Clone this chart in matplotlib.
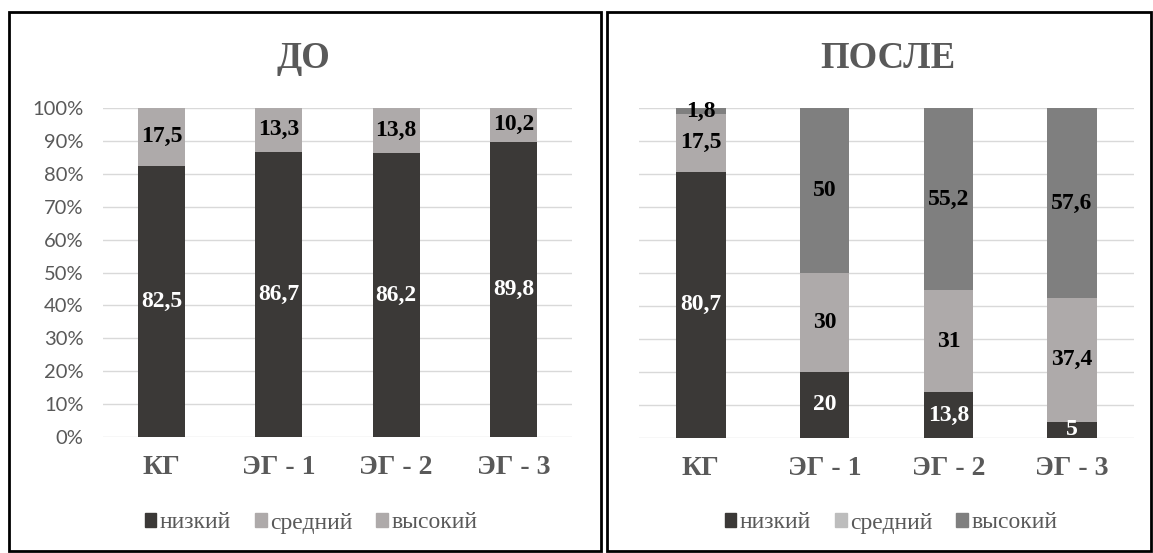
import matplotlib
matplotlib.use("Agg")
import matplotlib.pyplot as plt
from matplotlib.patches import Rectangle, Patch

groups = ["КГ", "ЭГ - 1", "ЭГ - 2", "ЭГ - 3"]
levels = ["низкий", "средний", "высокий"]

# ДО
before_low = [82.5, 86.7, 86.2, 89.8]
before_mid = [17.5, 13.3, 13.8, 10.2]
before_high = [0, 0, 0, 0]

# ПОСЛЕ
after_low = [80.7, 20, 13.8, 5]
after_mid = [17.5, 30, 31, 37.4]
after_high = [1.8, 50, 55.2, 57.6]

yticks = [0, 10, 20, 30, 40, 50, 60, 70, 80, 90, 100]

DARK = "#3b3937"
LIGHT = "#aeaaaa"
MID = "#7f7f7f"
TXT = "#595959"
SERIF = "Liberation Serif"
LBL = 17

W, H = 1153, 553
fig = plt.figure(figsize=(W / 100, H / 100), dpi=100)


def fx(px):
    return px / W


def fy(py):
    return 1 - py / H


def fmt(v):
    return ("%g" % v).replace(".", ",")


def draw(ax, low, mid, high, colors, show_y):
    x = range(len(groups))
    total = [a + b + c for a, b, c in zip(low, mid, high)]
    lo = [a / t * 100 for a, t in zip(low, total)]
    md = [b / t * 100 for b, t in zip(mid, total)]
    hi = [c / t * 100 for c, t in zip(high, total)]
    ax.bar(x, lo, 0.4, color=colors[0], zorder=3)
    ax.bar(x, md, 0.4, bottom=lo, color=colors[1], zorder=3)
    ax.bar(x, hi, 0.4, bottom=[a + b for a, b in zip(lo, md)], color=colors[2], zorder=3)
    for i in x:
        ax.text(i, lo[i] / 2, fmt(low[i]), ha="center", va="center", color="white",
                fontsize=LBL, fontweight="bold", family=SERIF, zorder=4)
        if mid[i] > 0:
            ax.text(i, lo[i] + md[i] / 2, fmt(mid[i]), ha="center", va="center", color="black",
                    fontsize=LBL, fontweight="bold", family=SERIF, zorder=4)
        if high[i] > 0:
            ax.text(i, lo[i] + md[i] + hi[i] / 2, fmt(high[i]), ha="center", va="center",
                    color="black", fontsize=LBL, fontweight="bold", family=SERIF, zorder=4)
    ax.set_xlim(-0.5, len(groups) - 0.5)
    ax.set_ylim(0, 100)
    ax.set_yticks(yticks)
    ax.yaxis.grid(True, color="#d9d9d9", lw=1, zorder=0)
    for s in ax.spines.values():
        s.set_visible(False)
    ax.set_xticks(list(x))
    ax.set_xticklabels(groups, family=SERIF, fontweight="bold", fontsize=20, color=TXT)
    ax.tick_params(axis="x", length=0, pad=13)
    ax.tick_params(axis="y", length=0, pad=14)
    if show_y:
        ax.set_yticklabels(["%d%%" % v for v in yticks], family="Lato", fontsize=14.5, color=TXT)
    else:
        ax.set_yticklabels([])


# panel frames
fig.add_artist(Rectangle((fx(9), fy(551)), fx(601) - fx(9), fy(12) - fy(551),
                         fill=False, ec="black", lw=2, transform=fig.transFigure))
fig.add_artist(Rectangle((fx(607), fy(551)), fx(1151) - fx(607), fy(12) - fy(551),
                         fill=False, ec="black", lw=2, transform=fig.transFigure))

ax1 = fig.add_axes([fx(103), fy(437), fx(572) - fx(103), fy(108) - fy(437)])
draw(ax1, before_low, before_mid, before_high, [DARK, LIGHT, LIGHT], True)

ax2 = fig.add_axes([fx(639), fy(438), fx(1134) - fx(639), fy(108) - fy(438)])
draw(ax2, after_low, after_mid, after_high, [DARK, LIGHT, MID], False)

fig.text(fx(303), fy(58), "ДО", ha="center", va="center", family=SERIF,
         fontweight="bold", fontsize=26.5, color=TXT)
fig.text(fx(888), fy(58), "ПОСЛЕ", ha="center", va="center", family=SERIF,
         fontweight="bold", fontsize=26.5, color=TXT)

leg_kw = dict(ncol=3, frameon=False, handlelength=0.5, handleheight=0.55,
              handletextpad=0.15, columnspacing=1.0, labelcolor=TXT,
              prop={"family": SERIF, "size": 17})
h1 = [Patch(color=c) for c in [DARK, LIGHT, LIGHT]]
fig.legend(h1, levels, loc="center", bbox_to_anchor=(fx(311), fy(523)), **leg_kw)
h2 = [Patch(color=c) for c in [DARK, "#bdbdbd", MID]]
fig.legend(h2, levels, loc="center", bbox_to_anchor=(fx(891), fy(523)), **leg_kw)

fig.savefig("out.png", dpi=100)
